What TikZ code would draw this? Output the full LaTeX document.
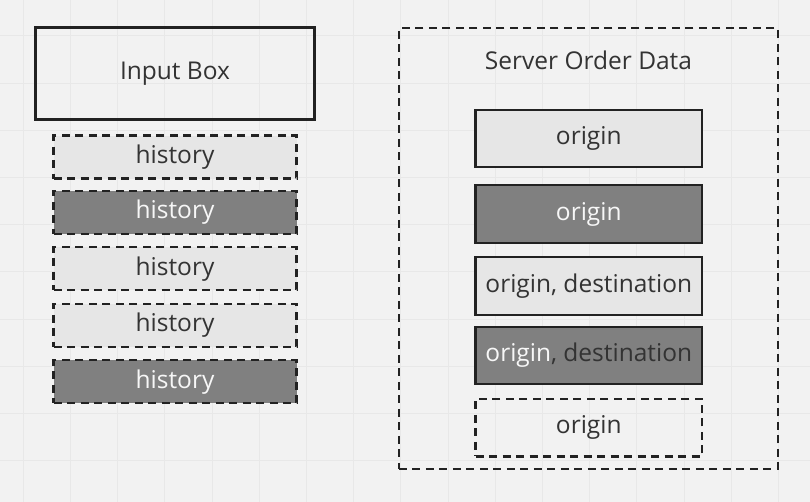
\documentclass[tikz,border=0pt]{standalone}
\usepackage{fontspec}
\setmainfont{Open Sans}
\definecolor{bg}{HTML}{F2F2F2}
\definecolor{gridc}{HTML}{E8E8E8}
\definecolor{lightfill}{HTML}{E6E6E6}
\definecolor{darkfill}{HTML}{808080}
\definecolor{strokec}{HTML}{222222}
\definecolor{txt}{HTML}{333333}
\definecolor{wtxt}{HTML}{F7F7F7}
\tikzset{
  base/.style={rectangle, draw=strokec, line width=2.2pt, inner sep=0pt, text=txt, font=\fontsize{24.5}{29}\selectfont},
  dashbox/.style={base, dash pattern=on 8pt off 5.5pt},
  lightbox/.style={fill=lightfill},
  darkbox/.style={fill=darkfill, text=wtxt},
  histbox/.style={dashbox, minimum width=243pt, minimum height=43pt},
  origbox/.style={base, minimum width=226.5pt, minimum height=57.5pt},
}
\begin{document}
\begin{tikzpicture}[x=1pt,y=-1pt]
\useasboundingbox (0,0) rectangle (810,502);
\fill[bg] (0,0) rectangle (810,502);
\foreach \i in {0,...,16} \draw[gridc, line width=1pt] ({23.3+47.2*\i},0) -- ++(0,502);
\foreach \j in {0,...,10} \draw[gridc, line width=1pt] (0,{36+47.2*\j}) -- ++(810,0);

% left column
\node[base, minimum width=279pt, minimum height=92pt] (input) at (175,73.6) {Input Box};
\node[histbox, lightbox] (h1) at (175,157.1) {history};
\node[histbox, darkbox]  (h2) at (175,212.5) {history};
\node[histbox, lightbox] (h3) at (175,268.7) {history};
\node[histbox, lightbox] (h4) at (175,325.3) {history};
\node[histbox, darkbox]  (h5) at (175,381.7) {history};

% right container
\node[dashbox, minimum width=379pt, minimum height=441pt] (server) at (588.3,248.8) {};
\node[text=txt, font=\fontsize{24.5}{29}\selectfont] (title) at (588.5,60) {Server Order Data};
\node[origbox, lightbox] (o1) at (588.8,138.5) {origin};
\node[origbox, darkbox]  (o2) at (588.8,214) {origin};
\node[origbox, lightbox] (o3) at (588.8,286) {origin, destination};
\node[origbox, darkbox, text=txt] (o4) at (588.8,355.5) {\textcolor{wtxt}{origin}, destination};
\node[origbox, dashbox, minimum width=226.5pt, minimum height=57.5pt] (o5) at (588.8,427.7) {origin};
\end{tikzpicture}
\end{document}
